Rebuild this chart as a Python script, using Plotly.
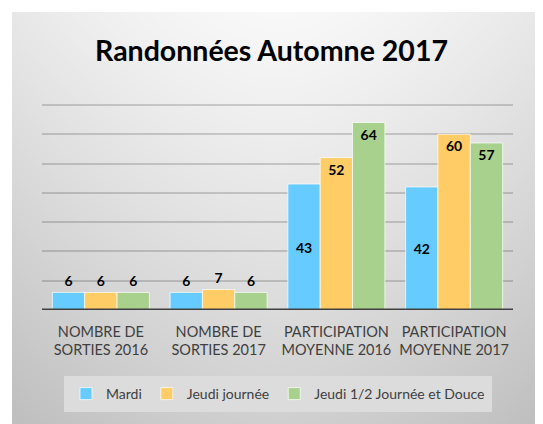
import base64, struct, zlib
import plotly.graph_objects as go

# ---------------- data ----------------
categories = ["NOMBRE DE<br>SORTIES 2016", "NOMBRE DE<br>SORTIES 2017",
              "PARTICIPATION<br>MOYENNE 2016", "PARTICIPATION<br>MOYENNE 2017"]
series_names = ["Mardi", "Jeudi journée", "Jeudi 1/2 Journée et Douce"]
mardi = [6, 6, 43, 42]
jeudi_journee = [6, 7, 52, 60]
jeudi_demi = [6, 6, 64, 57]
title_text = "Randonnées Automne 2017"
grid_values = [10, 20, 30, 40, 50, 60, 70]

colors = ["#66CCFF", "#FFCC66", "#A9D18E"]
FONT = "Lato"

W, H = 543, 424
OFF = 8  # page body margin
ML, MR, MT, MB = 34, 38, 94, 122
PW, PH = W - ML - MR, H - MT - MB


# ---------------- gradient background as PNG ----------------
def gradient_png(w, h):
    rows = []
    cx = 265.0
    for j in range(h):
        v = j / (h - 1)
        row = bytearray([0])
        for i in range(w):
            u = min(1.0, abs(i - cx) / 265.0)
            c = 248 - 17 * u ** 1.6 - 42 * v ** 1.1
            row.append(max(0, min(255, int(round(c)))))
        rows.append(bytes(row))
    raw = b"".join(rows)

    def chunk(t, d):
        c = struct.pack(">I", len(d)) + t + d
        return c + struct.pack(">I", zlib.crc32(t + d) & 0xffffffff)

    png = b"\x89PNG\r\n\x1a\n"
    png += chunk(b"IHDR", struct.pack(">IIBBBBB", w, h, 8, 0, 0, 0, 0))
    png += chunk(b"IDAT", zlib.compress(raw, 9))
    png += chunk(b"IEND", b"")
    return "data:image/png;base64," + base64.b64encode(png).decode()


bx0, by0 = 4, 4
bw, bh = W - bx0, H - by0
img = gradient_png(bw, bh)

fig = go.Figure()
all_vals = [mardi, jeudi_journee, jeudi_demi]
for k, (name, vals) in enumerate(zip(series_names, all_vals)):
    pos = ["outside" if v < 20 else "inside" for v in vals]
    fig.add_trace(go.Bar(
        name=name, x=categories, y=vals,
        marker=dict(color=colors[k], line=dict(color="rgba(255,255,255,0.7)", width=1)),
        text=[str(v) for v in vals], textposition=pos,
        insidetextanchor="middle" if k == 0 else "end",
        textfont=dict(family=FONT, size=14, color="black", weight="bold"),
        constraintext="none", cliponaxis=False, hoverinfo="skip",
    ))

fig.update_layout(
    width=W, height=H,
    margin=dict(l=ML, r=MR, t=MT, b=MB, pad=0),
    paper_bgcolor="white", plot_bgcolor="rgba(0,0,0,0)",
    barmode="group", bargap=0.176, bargroupgap=0,
    font=dict(family=FONT, color="#404040"),
    title=dict(text="<b>" + title_text + "</b>", x=(271.5 - OFF) / W, xref="container",
               xanchor="center", y=1 - (51 - OFF) / H, yref="container", yanchor="middle",
               font=dict(family=FONT, size=28.5, color="black")),
    showlegend=True,
    legend=dict(orientation="h", xref="paper", x=(278 - OFF - ML) / PW, xanchor="center",
                yref="container", y=1 - (376 - OFF) / H, yanchor="top",
                bgcolor="#dcdcdc", bordercolor="#dcdcdc", borderwidth=2,
                font=dict(family=FONT, size=14, color="#404040"),
                itemwidth=30, traceorder="normal"),
    images=[dict(source=img, xref="paper", yref="paper",
                 x=(bx0 - ML) / PW, y=(H - MB - by0) / PH,
                 sizex=bw / PW, sizey=bh / PH, sizing="stretch",
                 xanchor="left", yanchor="top", layer="below")],
    shapes=[dict(type="line", xref="paper", x0=0, x1=1, yref="y", y0=0, y1=0,
                 line=dict(color="#404040", width=3), layer="above")],
)
fig.update_xaxes(showgrid=False, zeroline=False, showline=False, ticks="",
                 tickfont=dict(family=FONT, size=14.5, color="#404040"),
                 ticklabelstandoff=11)
fig.update_yaxes(range=[0, 71], tickvals=grid_values,
                 showticklabels=False, showgrid=True,
                 gridcolor="rgba(0,0,0,0.16)", gridwidth=1.5, zeroline=False)

fig.write_html("out.html")
